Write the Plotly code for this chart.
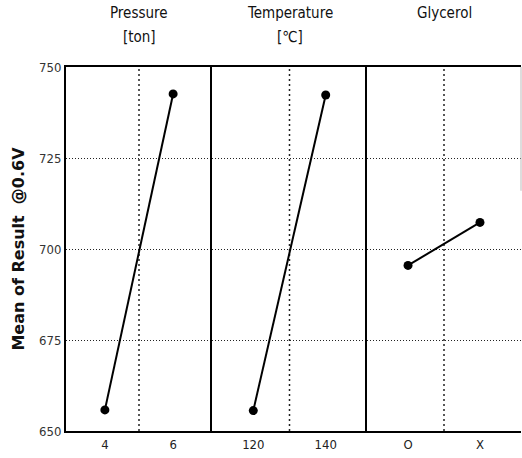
import plotly.graph_objects as go
from plotly.subplots import make_subplots

factors = ["Pressure", "Temperature", "Glycerol"]
units = ["[ton]", "[℃]", ""]
levels = [["4", "6"], ["120", "140"], ["O", "X"]]
means = [[655.8, 742.6], [655.6, 742.3], [695.5, 707.3]]
y_ticks = [650, 675, 700, 725, 750]
y_title = "Mean of Result  @0.6V"

narrow = "DejaVu Sans Condensed, Liberation Sans Narrow, Liberation Sans, Arial"

fig = make_subplots(rows=1, cols=3, shared_yaxes=True, horizontal_spacing=0,
                    column_widths=[146, 155, 154])

for i in range(3):
    xs = list(range(len(levels[i])))
    fig.add_trace(go.Scatter(x=xs, y=means[i], mode="lines+markers",
                             line=dict(color="black", width=2),
                             marker=dict(color="black", size=9),
                             showlegend=False, hoverinfo="skip"),
                  row=1, col=i + 1)
    fig.update_xaxes(row=1, col=i + 1, range=[-0.57, 1.57], tickvals=xs,
                     ticktext=levels[i], showgrid=False, zeroline=False,
                     showline=True, linecolor="black", linewidth=2, mirror=True,
                     ticks="", tickfont=dict(family=narrow, size=13, color="#222"))
    fig.update_yaxes(row=1, col=i + 1, range=[650, 750], tickvals=y_ticks,
                     showgrid=True, gridcolor="#222", griddash="1px,2px", gridwidth=1,
                     zeroline=False, showline=True, linecolor="black", linewidth=2,
                     ticks="", tickfont=dict(family=narrow, size=13, color="#333"))
    xref = "x" if i == 0 else f"x{i + 1}"
    fig.add_shape(type="line", xref=xref, yref="y domain", x0=0.5, x1=0.5,
                  y0=0, y1=1, line=dict(color="#222", width=1.5, dash="2px,3px"),
                  layer="below")
    fig.add_annotation(xref=f"{xref} domain", yref="paper", x=0.5, y=1.0,
                       yshift=54, yanchor="middle", showarrow=False, text=factors[i],
                       font=dict(family=narrow, size=15, color="#111"))
    if units[i]:
        fig.add_annotation(xref=f"{xref} domain", yref="paper", x=0.5, y=1.0,
                           yshift=30, yanchor="middle", showarrow=False, text=units[i],
                           font=dict(family=narrow, size=15, color="#111"))

fig.add_shape(type="line", xref="paper", yref="paper", x0=1, x1=1, y0=0.66, y1=1,
              line=dict(color="#bbbbbb", width=1))

fig.update_yaxes(row=1, col=1, title=dict(text=y_title, standoff=10,
                 font=dict(family="DejaVu Sans, Liberation Sans, Arial", size=16,
                           color="#111", weight="bold")))

fig.update_layout(width=522, height=458, margin=dict(l=66, r=1, t=67, b=27),
                  paper_bgcolor="white", plot_bgcolor="white")

fig.write_html("out.html")
